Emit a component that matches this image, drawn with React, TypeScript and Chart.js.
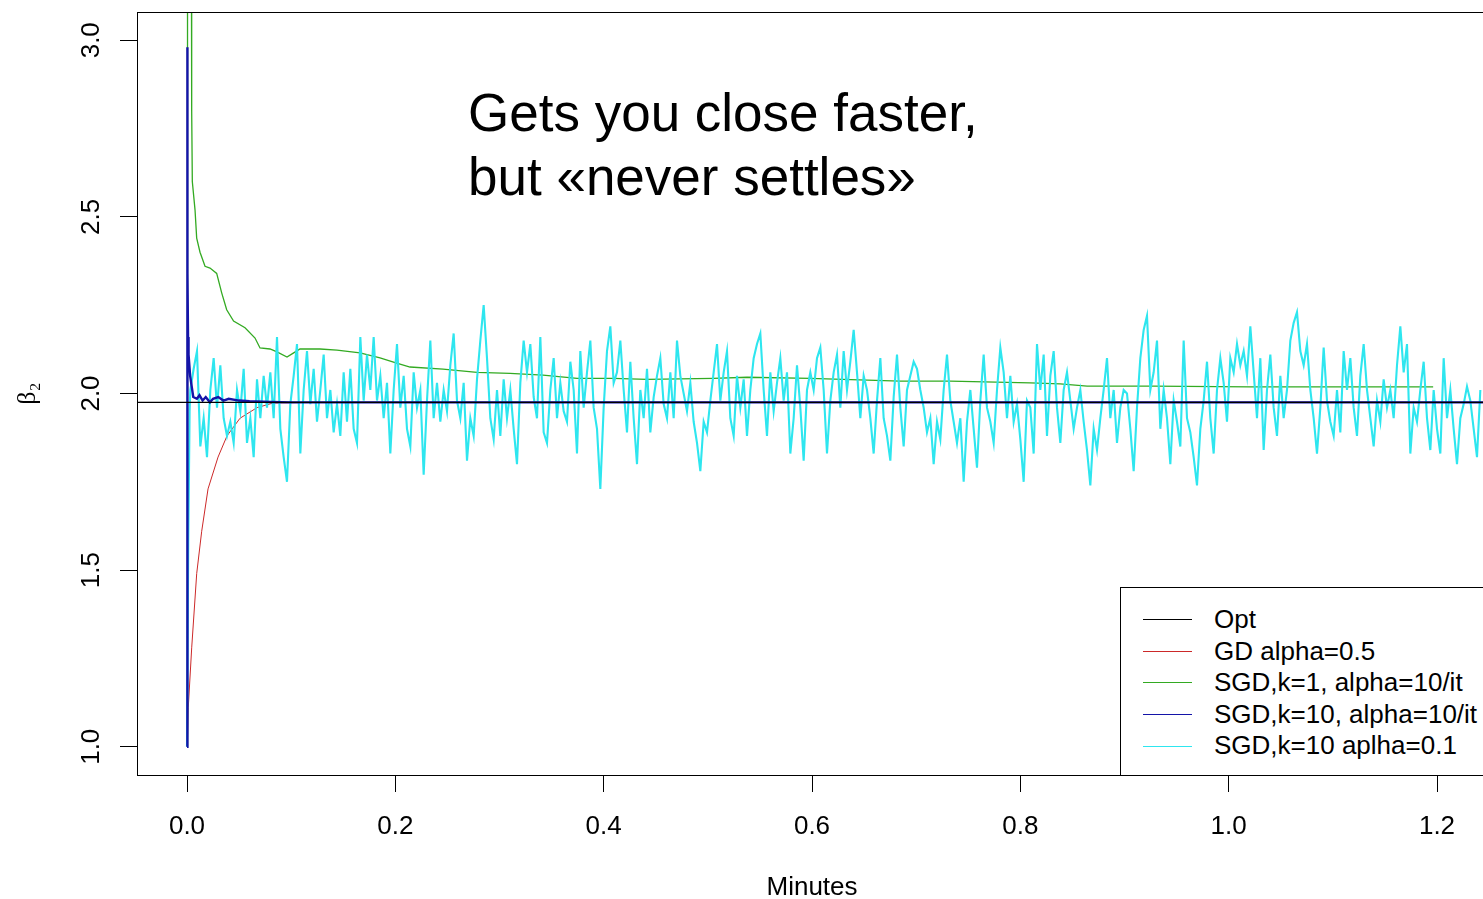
import React, { useEffect, useRef } from "react";
import { Chart, registerables } from "chart.js";

Chart.register(...registerables);

const SANS = "'Liberation Sans', Arial, Helvetica, sans-serif";
const SERIF = "'Liberation Serif', 'DejaVu Serif', serif";

// Axes
const xTickValues = [0, 0.2, 0.4, 0.6, 0.8, 1.0, 1.2];
const yTickValues = [1.0, 1.5, 2.0, 2.5, 3.0];
const xRange = [-0.048, 1.248];
const yRange = [0.92, 3.08];

// Legend / series labels
const seriesLabels = [
  "Opt",
  "GD alpha=0.5",
  "SGD,k=1, alpha=10/it",
  "SGD,k=10, alpha=10/it",
  "SGD,k=10 aplha=0.1",
];
const seriesColors = ["#000000", "#cc2929", "#33aa22", "#1414a8", "#2ee6ef"];

// Opt (horizontal reference)
const optT = [-0.048, 1.248];
const optBeta = [1.975, 1.975];

// GD alpha=0.5
const gdT = [0, 0.0005, 0.0012, 0.0045, 0.0093, 0.0141, 0.0202, 0.0298, 0.0384, 0.0509, 0.0672, 0.0826, 0.12, 1.2];
const gdBeta = [1.0, 1.025, 1.11, 1.28, 1.49, 1.61, 1.73, 1.82, 1.88, 1.93, 1.96, 1.973, 1.975, 1.975];

// SGD k=1 alpha=10/it
const sgd1T = [0, 0.0005, 0.004, 0.0045, 0.0051, 0.0077, 0.0093, 0.0125, 0.0173, 0.0221, 0.0285, 0.0333, 0.0381, 0.0447, 0.0557, 0.0653, 0.0701, 0.0797, 0.0864, 0.096, 0.1024, 0.1085, 0.1277, 0.144, 0.1661, 0.1853, 0.2013, 0.2141, 0.2458, 0.2784, 0.3101, 0.3418, 0.3745, 0.409, 0.4417, 0.505, 0.5377, 0.5982, 0.6846, 0.7326, 0.8094, 0.8382, 0.8641, 0.9275, 1.0206, 1.1963];
const sgd1Beta = [1.0, 3.9, 3.6, 2.8, 2.6, 2.52, 2.44, 2.4, 2.36, 2.355, 2.34, 2.285, 2.237, 2.205, 2.186, 2.157, 2.129, 2.126, 2.118, 2.103, 2.115, 2.126, 2.126, 2.123, 2.115, 2.101, 2.086, 2.075, 2.069, 2.06, 2.057, 2.052, 2.043, 2.043, 2.04, 2.043, 2.046, 2.043, 2.035, 2.035, 2.03, 2.027, 2.021, 2.021, 2.019, 2.019];

// SGD k=10 alpha=10/it
const sgd10T = [0, 0.0002, 0.0004, 0.0006, 0.001, 0.0015, 0.003, 0.0045, 0.006, 0.0095, 0.012, 0.015, 0.018, 0.022, 0.025, 0.03, 0.035, 0.04, 0.05, 0.06, 0.08, 0.1, 1.248];
const sgd10Beta = [1.0, 2.98, 1.2, 2.34, 2.16, 2.11, 2.05, 2.02, 1.99, 1.985, 1.995, 1.98, 1.99, 1.975, 1.985, 1.99, 1.98, 1.985, 1.98, 1.978, 1.976, 1.975, 1.975];

// SGD k=10 alpha=0.1 : first steps, then samples every cyanStep minutes
const cyanHeadT = [0, 0.0012, 0.0025];
const cyanHeadBeta = [1.0, 1.58, 1.95];
const cyanStep = 0.0032;
const cyanBeta = [
  2.01, 2.07, 2.12, 1.85, 1.93, 1.82, 2.01, 2.10, 1.96, 2.08,
  1.93, 1.88, 1.92, 1.86, 2.01, 1.95, 2.07, 1.86, 1.93, 1.82,
  2.04, 1.93, 2.05, 1.96, 2.06, 1.93, 2.16, 1.90, 1.82, 1.75,
  1.97, 2.05, 2.14, 1.83, 2.01, 2.12, 1.97, 2.07, 1.92, 2.01,
  2.11, 1.93, 2.01, 1.89, 1.97, 1.88, 2.06, 1.92, 2.07, 1.90,
  1.86, 2.16, 1.98, 2.11,
  2.01, 2.16, 1.98, 2.05, 1.93, 2.03, 1.83, 2.01, 2.14, 1.96,
  2.05, 1.90, 1.85, 2.06, 1.96, 2.01, 1.77, 1.98, 2.15, 1.93,
  2.03, 1.92, 2.01, 1.95, 2.08, 2.17, 1.98, 1.93, 2.03, 1.81,
  1.93, 1.88, 2.04, 2.15, 2.25, 2.10, 1.93, 1.87, 2.01, 1.88,
  2.04, 1.93, 2.01, 1.90, 1.80, 2.03, 2.15, 2.06, 2.14, 1.99,
  1.93, 2.16, 1.89, 1.86, 2.01, 2.10, 1.93, 2.03, 1.95, 1.92,
  2.09, 2.01, 1.83, 2.12, 1.96, 2.06, 2.15,
  1.96, 1.90, 1.73, 1.96, 2.12, 2.19, 2.03, 2.06, 2.15, 2.01,
  1.89, 2.09, 1.93, 1.80, 2.01, 1.93, 2.07, 1.89, 1.99, 2.05,
  2.10, 1.97, 1.93, 2.06, 1.93, 2.15, 2.05, 2.00, 1.95, 2.03,
  1.92, 1.86, 1.78, 1.92, 1.89, 1.98, 2.06, 2.14, 1.98, 2.06,
  2.12, 1.93, 1.88, 2.05, 1.96, 2.04, 1.88, 2.01, 2.10, 2.14,
  2.17, 2.01, 1.88, 2.06, 1.95, 2.03, 2.10, 1.98, 2.06, 1.83,
  1.93, 2.08, 1.96, 1.81, 2.01, 2.06,
  2.01, 2.10, 2.13, 2.01, 1.83, 1.98, 2.06, 2.11, 1.96, 2.12,
  2.01, 2.09, 2.18, 2.06, 1.93, 2.05, 2.01, 1.93, 1.83, 1.98,
  2.10, 1.93, 1.88, 1.81, 1.99, 2.11, 1.96, 1.85, 2.01, 2.05,
  2.09, 2.07, 2.01, 1.96, 1.89, 1.93, 1.80, 1.92, 1.87, 2.01,
  2.11, 1.98, 1.92, 1.86, 1.93, 1.75, 1.92, 2.01, 1.90, 1.79,
  1.98, 2.11, 1.96, 1.92, 1.86, 2.01, 2.13, 2.06, 1.93, 2.05,
  1.92, 1.97, 1.87, 1.75, 1.98, 1.96,
  1.83, 2.14, 2.01, 2.11, 1.88, 2.05, 2.12, 1.96, 1.86, 2.01,
  2.06, 1.98, 1.90, 1.96, 2.01, 1.92, 1.84, 1.74, 1.90, 1.84,
  1.93, 2.01, 2.10, 1.93, 2.01, 1.86, 1.96, 2.01, 2.00, 1.90,
  1.78, 1.96, 2.10, 2.18, 2.22, 2.01, 2.06, 2.15, 1.90, 2.01,
  1.93, 1.80, 1.98, 1.92, 1.85, 2.15, 1.93, 1.89, 1.82, 1.74,
  1.90, 1.98, 2.09, 1.93, 1.83, 2.01, 2.10, 2.03, 1.92, 2.10,
  2.06, 2.14, 2.08, 2.12, 2.05, 2.19,
  2.06, 1.93, 2.10, 1.84, 2.01, 2.11, 1.96, 1.88, 2.05, 1.93,
  2.01, 2.15, 2.20, 2.23, 2.12, 2.08, 2.14, 2.01, 1.93, 1.83,
  1.96, 2.13, 1.98, 1.92, 1.88, 2.01, 1.89, 2.12, 2.01, 2.10,
  1.96, 1.88, 2.05, 2.14, 2.01, 1.93, 1.85, 1.98, 1.92, 2.04,
  1.96, 2.01, 1.93, 2.08, 2.19, 2.06, 2.14, 1.83, 1.96, 1.92,
  2.01, 2.09, 1.93, 1.84, 2.01, 1.90, 1.83, 2.10, 1.93, 2.01,
  1.90, 1.80, 1.93, 1.97, 2.02, 1.98, 1.90, 1.82, 2.01,
];

const annotationLines = ["Gets you close faster,", "but «never settles»"];

const toPts = (t: number[], b: number[]) => t.map((x, i) => ({ x, y: b[i] }));

const framePlugin = {
  id: "frame",
  afterDatasetsDraw(chart: any) {
    const { ctx, chartArea } = chart;
    const { left, top, right, bottom } = chartArea;
    ctx.save();
    ctx.strokeStyle = "#000";
    ctx.lineWidth = 1;
    ctx.strokeRect(left + 0.5, top + 0.5, right - left - 1, bottom - top);
    ctx.restore();
  },
};

export default function App() {
  const canvasRef = useRef<HTMLCanvasElement | null>(null);

  useEffect(() => {
    if (!canvasRef.current) return;
    const cyanPts = [
      ...toPts(cyanHeadT, cyanHeadBeta),
      ...cyanBeta.map((b, i) => ({ x: cyanStep * (i + 1), y: b })),
    ];
    const seriesData = [
      toPts(optT, optBeta),
      toPts(gdT, gdBeta),
      toPts(sgd1T, sgd1Beta),
      toPts(sgd10T, sgd10Beta),
      cyanPts,
    ];
    const widths = [1.2, 1, 1.3, 2.4, 2.1];
    const orders = [0, 4, 3, 1, 2];

    const tickFont = { family: SANS, size: 26 };
    const gridOpts = {
      display: true,
      drawOnChartArea: false,
      drawTicks: true,
      tickLength: 17,
      color: "#000",
      lineWidth: 1,
    };

    const chart = new Chart(canvasRef.current, {
      type: "line",
      data: {
        datasets: seriesLabels.map((label, i) => ({
          label,
          data: seriesData[i],
          borderColor: seriesColors[i],
          backgroundColor: seriesColors[i],
          borderWidth: widths[i],
          borderJoinStyle: "miter",
          pointRadius: 0,
          tension: 0,
          fill: false,
          order: orders[i],
        })),
      },
      options: {
        animation: false,
        responsive: false,
        devicePixelRatio: 1,
        events: [],
        layout: { padding: { left: 0, top: 12, right: 13, bottom: 0 } },
        plugins: { legend: { display: false }, tooltip: { enabled: false } },
        scales: {
          x: {
            type: "linear",
            min: xRange[0],
            max: xRange[1],
            afterBuildTicks: (s: any) => {
              s.ticks = xTickValues.map((v) => ({ value: v }));
            },
            afterFit: (s: any) => {
              s.height = 124;
              s.paddingLeft = 0;
              s.paddingRight = 0;
            },
            ticks: {
              autoSkip: false,
              minRotation: 0,
              maxRotation: 0,
              padding: 19,
              color: "#000",
              font: tickFont,
              callback: (v: any) => Number(v).toFixed(1),
            },
            grid: gridOpts,
            border: { display: false },
            title: {
              display: true,
              text: "Minutes",
              color: "#000",
              font: { family: SANS, size: 26, lineHeight: 0.85 },
              padding: { top: 0, bottom: 0 },
            },
          },
          y: {
            type: "linear",
            min: yRange[0],
            max: yRange[1],
            afterBuildTicks: (s: any) => {
              s.ticks = yTickValues.map((v) => ({ value: v }));
            },
            afterFit: (s: any) => {
              s.width = 137;
              s.paddingTop = 0;
              s.paddingBottom = 0;
            },
            ticks: {
              autoSkip: false,
              minRotation: 90,
              maxRotation: 90,
              crossAlign: "center",
              padding: 10,
              color: "#000",
              font: tickFont,
              callback: (v: any) => Number(v).toFixed(1),
            },
            grid: gridOpts,
            border: { display: false },
            title: {
              display: true,
              text: "β₂",
              color: "#000",
              font: { family: SERIF, size: 26, lineHeight: 1 },
              padding: { top: 15, bottom: 0 },
            },
          },
        },
      } as any,
      plugins: [framePlugin],
    });
    return () => chart.destroy();
  }, []);

  return (
    <div
      style={{
        position: "fixed",
        left: 0,
        top: 0,
        width: 1483,
        height: 899,
        overflow: "hidden",
        background: "#fff",
      }}
    >
      <canvas ref={canvasRef} width={1500} height={899} style={{ display: "block" }} />
      <div
        style={{
          position: "absolute",
          left: 468,
          top: 81,
          fontFamily: SANS,
          fontSize: 53,
          lineHeight: "64px",
          color: "#000",
          whiteSpace: "pre",
        }}
      >
        {annotationLines.map((l, i) => (
          <div key={i}>{l}</div>
        ))}
      </div>
      <div
        style={{
          position: "absolute",
          left: 1120,
          top: 587,
          width: 420,
          height: 189,
          boxSizing: "border-box",
          border: "1px solid #000",
          background: "#fff",
          fontFamily: SANS,
          fontSize: 26,
          color: "#000",
        }}
      >
        {seriesLabels.map((label, i) => (
          <div
            key={label}
            style={{
              position: "absolute",
              left: 0,
              top: 16 + i * 31.6,
              height: 31.6,
              display: "flex",
              alignItems: "center",
              whiteSpace: "pre",
            }}
          >
            <span
              style={{
                display: "inline-block",
                marginLeft: 22,
                width: 49,
                height: 0,
                borderTop: `1px solid ${seriesColors[i]}`,
              }}
            />
            <span style={{ marginLeft: 22, lineHeight: "31.6px" }}>{label}</span>
          </div>
        ))}
      </div>
    </div>
  );
}
